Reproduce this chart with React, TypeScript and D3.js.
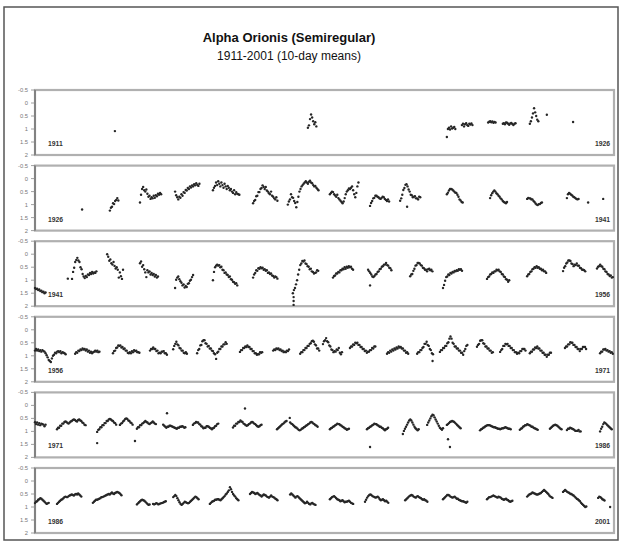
import * as d3 from "d3";

// 10-day means, each observing season: [first epoch (year), magnitudes...]
type Season = [number, number[]];
type Point = [number, number];

const STEP = 10 / 365.25;
const panelStarts = [1911, 1926, 1941, 1956, 1971, 1986];
const yTicks = [-0.5, 0, 0.5, 1, 1.5, 2];

const seasons1911: Season[] = [
  [1913.07, [1.08]],
  [1918.07, [0.95, 0.86, 0.62, 0.44, 0.56, 0.7, 0.82, 0.74, 0.9]],
  [1921.67, [1.31, 1.0, 0.95, 1.02, 0.9, 0.98, 0.95, 0.92, 1.0]],
  [1922.06, [0.85, 0.8, 0.9, 0.82, 0.78, 0.85, 0.88, 0.8, 0.83, 0.79, 0.85]],
  [1922.74, [0.75, 0.72, 0.7, 0.74, 0.71, 0.76, 0.73, 0.75]],
  [1923.12, [0.8, 0.78, 0.82, 0.75, 0.76, 0.8, 0.84, 0.79, 0.77, 0.81, 0.85, 0.8, 0.78]],
  [1923.82, [0.8, 0.7, 0.56, 0.4, 0.2, 0.36, 0.5, 0.64, 0.7]],
  [1924.26, [0.45]],
  [1924.94, [0.73]],
];
const extras1911: Point[] = [];

const seasons1926: Season[] = [
  [1927.22, [1.19]],
  [1927.94, [1.23, 1.12, 1.08, 0.95, 0.98, 0.86, 0.82, 0.75, 0.84]],
  [1928.72, [0.92, 0.62, 0.4, 0.32, 0.45, 0.5, 0.42, 0.58, 0.7, 0.66, 0.78, 0.72, 0.76, 0.66, 0.74, 0.64, 0.68, 0.58, 0.62, 0.55, 0.6]],
  [1929.63, [0.5, 0.64, 0.72, 0.8, 0.7, 0.74, 0.6, 0.66, 0.52, 0.55, 0.44, 0.46, 0.36, 0.4, 0.3, 0.34, 0.26, 0.3, 0.22, 0.26, 0.18, 0.24, 0.28, 0.2]],
  [1930.61, [0.45, 0.35, 0.28, 0.15, 0.25, 0.1, 0.2, 0.3, 0.15, 0.25, 0.35, 0.2, 0.3, 0.4, 0.28, 0.35, 0.45, 0.4, 0.5, 0.55, 0.45, 0.6, 0.52, 0.58, 0.6, 0.62]],
  [1931.65, [0.95, 0.86, 0.82, 0.68, 0.66, 0.52, 0.52, 0.4, 0.36, 0.26, 0.32, 0.4, 0.32, 0.46, 0.5, 0.56, 0.6, 0.5, 0.66, 0.7, 0.76, 0.8, 0.72, 0.85]],
  [1932.55, [1.0, 0.88, 0.8, 0.6, 0.72, 0.74, 0.86, 0.94, 1.1, 0.9, 0.7, 0.5, 0.4, 0.3, 0.25, 0.2, 0.15, 0.1, 0.15, 0.2, 0.12, 0.08, 0.15, 0.18, 0.25, 0.3, 0.28, 0.35, 0.4, 0.45]],
  [1933.64, [0.6, 0.55, 0.5, 0.52, 0.6, 0.65, 0.7, 0.62, 0.75, 0.8, 0.85, 0.9, 0.95, 0.88, 0.75, 0.6, 0.5, 0.45, 0.38, 0.4, 0.35, 0.3, 0.45, 0.6, 0.72, 0.55, 0.3, 0.15]],
  [1934.68, [1.05, 0.94, 0.86, 0.76, 0.74, 0.66, 0.66, 0.7, 0.72, 0.76, 0.78, 0.74, 0.7, 0.72, 0.78, 0.82, 0.86, 0.8, 0.88]],
  [1935.46, [0.85, 0.76, 0.62, 0.44, 0.36, 0.24, 0.22, 0.3, 0.42, 0.5, 0.62, 0.64, 0.72, 0.7, 0.68, 0.76, 0.76, 0.8, 0.7, 0.72]],
  [1936.67, [0.6, 0.54, 0.46, 0.4, 0.4, 0.42, 0.46, 0.5, 0.54, 0.55, 0.62, 0.7, 0.8, 0.84, 0.9, 0.92]],
  [1937.79, [0.75, 0.64, 0.56, 0.5, 0.46, 0.5, 0.56, 0.6, 0.66, 0.7, 0.76, 0.8, 0.86, 0.9, 0.92, 0.95, 0.9]],
  [1938.75, [0.78, 0.74, 0.76, 0.76, 0.8, 0.8, 0.86, 0.9, 0.96, 1.0, 1.02, 0.98, 0.98, 0.94, 0.92]],
  [1939.78, [0.75, 0.6, 0.55, 0.58, 0.62, 0.65, 0.7, 0.72, 0.75, 0.78, 0.8, 0.78]],
  [1940.33, [0.92]],
  [1940.72, [0.78]],
];
const extras1926: Point[] = [[1935.64, 1.08]];

const seasons1941: Season[] = [
  [1941.0, [1.3, 1.34, 1.33, 1.38, 1.36, 1.42, 1.4, 1.46, 1.44, 1.5, 1.47]],
  [1941.85, [0.94]],
  [1941.96, [0.95, 0.68, 0.52, 0.3, 0.22, 0.14, 0.24, 0.3, 0.5, 0.58, 0.76, 0.86, 0.92, 0.84, 0.88, 0.78, 0.8, 0.72, 0.76, 0.68, 0.74, 0.7, 0.72, 0.66]],
  [1942.87, [0.0, 0.1, 0.25, 0.2, 0.35, 0.4, 0.3, 0.45, 0.55, 0.5, 0.6, 0.9, 0.7, 0.85, 0.95, 0.6]],
  [1943.72, [0.35, 0.28, 0.48, 0.42, 0.58, 0.7, 0.88, 0.62, 0.7, 0.66, 0.78, 0.72, 0.8, 0.76, 0.86, 0.8, 0.9, 0.86]],
  [1944.63, [1.3, 0.98, 0.9, 0.86, 0.96, 1.04, 1.1, 1.2, 1.16, 1.28, 1.22, 1.26, 1.14, 1.12, 1.02, 0.98, 0.88, 0.8]],
  [1945.61, [1.0, 0.68, 0.5, 0.44, 0.4, 0.44, 0.42, 0.5, 0.48, 0.6, 0.62, 0.72, 0.7, 0.78, 0.8, 0.88, 0.86, 0.96, 0.98, 1.06, 1.08, 1.14, 1.12, 1.2]],
  [1946.65, [0.9, 0.78, 0.72, 0.62, 0.64, 0.54, 0.56, 0.5, 0.54, 0.52, 0.6, 0.58, 0.64, 0.62, 0.72, 0.7, 0.76, 0.74, 0.82, 0.84, 0.9, 0.86, 0.88, 0.94]],
  [1947.68, [1.5, 1.38, 1.3, 1.16, 1.0, 0.78, 0.6, 0.42, 0.36, 0.26, 0.28, 0.24, 0.36, 0.38, 0.46, 0.48, 0.58, 0.56, 0.66, 0.68, 0.74, 0.72, 0.7, 0.62, 0.64]],
  [1948.72, [0.9, 0.84, 0.82, 0.74, 0.74, 0.68, 0.7, 0.62, 0.62, 0.56, 0.58, 0.5, 0.56, 0.48, 0.52, 0.46, 0.5, 0.48, 0.56, 0.6]],
  [1949.63, [0.6, 0.66, 0.72, 0.78, 0.86, 0.88, 0.84, 0.78, 0.76, 0.68, 0.66, 0.58, 0.56, 0.48, 0.46, 0.4, 0.4, 0.34, 0.42, 0.44, 0.52, 0.54, 0.62]],
  [1950.72, [0.85, 0.78, 0.76, 0.64, 0.56, 0.44, 0.42, 0.34, 0.34, 0.36, 0.42, 0.44, 0.52, 0.54, 0.6, 0.6, 0.66, 0.58, 0.56, 0.62, 0.6, 0.66]],
  [1951.57, [1.3, 1.18, 1.02, 0.88, 0.86, 0.78, 0.8, 0.72, 0.74, 0.68, 0.7, 0.64, 0.66, 0.62, 0.64, 0.58, 0.6, 0.58, 0.64]],
  [1952.71, [0.95, 0.88, 0.86, 0.78, 0.76, 0.7, 0.72, 0.66, 0.66, 0.6, 0.62, 0.6, 0.66, 0.68, 0.76, 0.78, 0.86, 0.88, 0.96, 0.98, 1.06, 1.0]],
  [1953.75, [0.85, 0.78, 0.76, 0.68, 0.66, 0.58, 0.56, 0.5, 0.52, 0.46, 0.52, 0.5, 0.56, 0.56, 0.62, 0.6, 0.66, 0.66, 0.72]],
  [1954.68, [0.65, 0.52, 0.46, 0.36, 0.32, 0.24, 0.24, 0.26, 0.36, 0.38, 0.46, 0.4, 0.42, 0.36, 0.44, 0.44, 0.52, 0.54, 0.6, 0.6, 0.62, 0.66]],
  [1955.56, [0.55, 0.48, 0.46, 0.4, 0.46, 0.48, 0.56, 0.58, 0.66, 0.68, 0.76, 0.78, 0.84, 0.82, 0.9, 0.88]],
];
const extras1941: Point[] = [
  [1947.7, 1.95], [1947.7, 1.8], [1947.7, 1.65], [1949.68, 1.2],
];

const seasons1956: Season[] = [
  [1956.0, [0.8, 0.74, 0.8, 0.76, 0.82, 0.78, 0.84, 0.78, 0.82, 0.84, 0.9, 0.98, 1.06, 1.16, 1.2, 1.24, 1.1, 1.0, 0.96, 0.88, 0.9, 0.84, 0.82, 0.86, 0.82, 0.9, 0.86, 0.88, 0.9, 0.94]],
  [1957.04, [0.92, 0.86, 0.88, 0.8, 0.82, 0.76, 0.78, 0.72, 0.76, 0.74, 0.8, 0.76, 0.84, 0.8, 0.88, 0.84, 0.9, 0.86, 0.84, 0.8, 0.84, 0.8, 0.86, 0.84]],
  [1958.02, [0.9, 0.82, 0.8, 0.7, 0.68, 0.6, 0.62, 0.6, 0.68, 0.66, 0.74, 0.72, 0.8, 0.8, 0.88, 0.9, 0.86, 0.9, 0.82, 0.86, 0.78, 0.82, 0.8, 0.86, 0.86, 0.88]],
  [1958.98, [0.8, 0.74, 0.74, 0.68, 0.74, 0.74, 0.82, 0.8, 0.9, 0.88, 0.9, 0.84, 0.84, 0.82, 0.9, 0.9, 0.96]],
  [1959.58, [0.75, 0.62, 0.54, 0.46, 0.56, 0.6, 0.7, 0.72, 0.8, 0.8, 0.88, 0.9, 0.86, 0.92]],
  [1960.2, [0.9, 0.78, 0.74, 0.6, 0.58, 0.44, 0.4, 0.4, 0.52, 0.54, 0.64, 0.62, 0.72, 0.72, 0.8, 0.82, 0.9, 0.94, 1.12, 0.88, 0.84, 0.74, 0.74, 0.64, 0.64, 0.56, 0.56, 0.48, 0.54]],
  [1961.31, [0.85, 0.78, 0.78, 0.7, 0.7, 0.64, 0.66, 0.6, 0.66, 0.66, 0.74, 0.74, 0.82, 0.82, 0.9, 0.9, 0.96, 0.94, 0.94, 0.86, 0.88, 0.86]],
  [1962.17, [0.8, 0.76, 0.78, 0.72, 0.74, 0.72, 0.78, 0.76, 0.82, 0.8, 0.86, 0.84, 0.86, 0.8, 0.82, 0.76]],
  [1962.87, [0.92, 0.86, 0.86, 0.78, 0.78, 0.7, 0.7, 0.62, 0.62, 0.54, 0.52, 0.44, 0.42, 0.46, 0.56, 0.6, 0.72, 0.72, 0.8]],
  [1963.46, [0.55, 0.44, 0.4, 0.32, 0.44, 0.48, 0.6, 0.64, 0.76, 0.78, 0.86, 0.82, 0.84, 0.76, 0.78, 0.7, 0.88, 0.94, 0.86]],
  [1964.16, [0.7, 0.64, 0.64, 0.56, 0.58, 0.5, 0.52, 0.5, 0.58, 0.58, 0.66, 0.66, 0.74, 0.74, 0.82, 0.8, 0.88, 0.84, 0.84, 0.78, 0.78, 0.7, 0.72, 0.64, 0.64]],
  [1965.12, [0.92, 0.86, 0.88, 0.8, 0.84, 0.76, 0.8, 0.72, 0.76, 0.68, 0.72, 0.64, 0.68, 0.66, 0.72, 0.72, 0.8, 0.8, 0.88, 0.86, 0.92]],
  [1965.9, [0.92, 0.86, 0.86, 0.78, 0.78, 0.7, 0.66, 0.54, 0.54, 0.46, 0.58, 0.62, 0.74, 0.78, 0.9, 0.94]],
  [1966.49, [0.85, 0.78, 0.78, 0.7, 0.7, 0.62, 0.62, 0.52, 0.48, 0.34, 0.26, 0.34, 0.5, 0.54, 0.64, 0.64, 0.72, 0.72, 0.8, 0.8, 0.88, 0.88, 0.96, 0.82, 0.74, 0.62, 0.58]],
  [1967.45, [0.65, 0.58, 0.54, 0.42, 0.4, 0.4, 0.52, 0.54, 0.64, 0.64, 0.72, 0.72, 0.8, 0.8, 0.88, 0.86]],
  [1968.05, [0.85, 0.78, 0.74, 0.62, 0.62, 0.54, 0.56, 0.54, 0.62, 0.62, 0.7, 0.7, 0.78, 0.78, 0.86, 0.86, 0.92, 0.88, 0.9, 0.82, 0.82, 0.74, 0.74, 0.74, 0.8]],
  [1968.82, [0.9, 0.84, 0.84, 0.76, 0.76, 0.68, 0.7, 0.64, 0.72, 0.72, 0.8, 0.8, 0.88, 0.88, 0.96, 0.96, 1.04, 0.96, 0.96, 0.88, 0.88]],
  [1969.73, [0.7, 0.64, 0.64, 0.56, 0.56, 0.48, 0.5, 0.5, 0.58, 0.58, 0.66, 0.66, 0.74, 0.74, 0.82, 0.74, 0.74, 0.66, 0.66, 0.66, 0.74]],
  [1970.64, [0.9, 0.84, 0.84, 0.76, 0.76, 0.74, 0.8, 0.78, 0.84, 0.82, 0.88, 0.86, 0.92]],
];
const extras1956: Point[] = [[1966.3, 1.2]];

const seasons1971: Season[] = [
  [1971.0, [0.65, 0.72, 0.66, 0.74, 0.68, 0.76, 0.7, 0.72, 0.74, 0.8, 0.74]],
  [1971.57, [0.92, 0.86, 0.86, 0.78, 0.78, 0.7, 0.7, 0.64, 0.62, 0.64, 0.68, 0.7, 0.66, 0.62, 0.6, 0.56, 0.54, 0.56, 0.6, 0.62, 0.56, 0.54, 0.58, 0.6, 0.66, 0.68, 0.74, 0.76]],
  [1972.61, [1.02, 0.94, 0.92, 0.84, 0.84, 0.76, 0.76, 0.68, 0.68, 0.6, 0.6, 0.54, 0.52, 0.54, 0.58, 0.6, 0.66, 0.68, 0.74]],
  [1973.2, [0.75, 0.7, 0.68, 0.62, 0.58, 0.52, 0.5, 0.52, 0.58, 0.6, 0.66, 0.68, 0.74]],
  [1973.64, [0.9, 0.84, 0.84, 0.76, 0.76, 0.7, 0.68, 0.64, 0.6, 0.64, 0.66, 0.7, 0.72, 0.68, 0.66, 0.62, 0.66, 0.7, 0.72]],
  [1974.32, [0.74, 0.78, 0.82, 0.86, 0.82, 0.82, 0.78, 0.78, 0.8, 0.82, 0.84, 0.86, 0.88, 0.9, 0.86, 0.86, 0.82, 0.82, 0.8, 0.82, 0.86, 0.84]],
  [1975.09, [0.75, 0.7, 0.68, 0.64, 0.66, 0.66, 0.72, 0.74, 0.8, 0.82, 0.88, 0.86, 0.86, 0.8, 0.8, 0.82, 0.86, 0.88, 0.92, 0.88, 0.86, 0.8, 0.78, 0.72, 0.7]],
  [1976.13, [0.85, 0.78, 0.78, 0.7, 0.7, 0.64, 0.64, 0.58, 0.62, 0.64, 0.7, 0.72, 0.76, 0.78, 0.76, 0.72, 0.7, 0.66, 0.64, 0.66, 0.7, 0.72, 0.76, 0.8, 0.82, 0.8, 0.76, 0.74]],
  [1977.27, [0.92, 0.88, 0.84, 0.8, 0.76, 0.72, 0.7, 0.66, 0.62, 0.6]],
  [1977.61, [0.66, 0.7, 0.72, 0.76, 0.8, 0.84, 0.86, 0.9, 0.94, 0.96, 0.94, 0.9, 0.88, 0.84, 0.82, 0.78, 0.76, 0.72, 0.7, 0.66, 0.64, 0.66, 0.7, 0.72, 0.76, 0.78, 0.82]],
  [1978.64, [0.92, 0.88, 0.86, 0.82, 0.8, 0.76, 0.74, 0.7, 0.72, 0.72, 0.76, 0.78, 0.82, 0.84, 0.88, 0.9, 0.94, 0.92, 0.9]],
  [1979.6, [0.92, 0.88, 0.86, 0.82, 0.8, 0.76, 0.74, 0.7, 0.72, 0.72, 0.76, 0.78, 0.82, 0.82, 0.86, 0.88, 0.92, 0.96, 0.92, 0.9, 0.86]],
  [1980.53, [1.1, 0.98, 0.9, 0.82, 0.74, 0.66, 0.58, 0.54, 0.58, 0.66, 0.74, 0.82, 0.88, 0.92, 0.96, 0.92]],
  [1981.16, [0.75, 0.66, 0.58, 0.5, 0.42, 0.36, 0.38, 0.46, 0.54, 0.62, 0.7, 0.78, 0.86, 0.9, 0.94, 0.88]],
  [1981.67, [0.75, 0.72, 0.68, 0.64, 0.62, 0.6, 0.62, 0.64, 0.68, 0.72, 0.76, 0.8, 0.84, 0.88]],
  [1982.53, [0.96, 0.92, 0.9, 0.86, 0.84, 0.8, 0.78, 0.76, 0.76, 0.76, 0.78, 0.8, 0.82, 0.84, 0.84, 0.86, 0.88, 0.9, 0.9, 0.92, 0.9, 0.88, 0.88, 0.86, 0.84, 0.86, 0.88, 0.9, 0.9, 0.92]],
  [1983.56, [0.94, 0.9, 0.88, 0.82, 0.8, 0.76, 0.76, 0.72, 0.74, 0.76, 0.78, 0.82, 0.82, 0.86, 0.88, 0.9, 0.92, 0.94]],
  [1984.34, [0.9, 0.86, 0.82, 0.78, 0.76, 0.74, 0.76, 0.78, 0.82, 0.86, 0.9, 0.92]],
  [1984.78, [0.95, 0.9, 0.9, 0.86, 0.88, 0.9, 0.92, 0.94, 0.98, 0.98, 0.98, 0.94, 1.0, 1.0]],
  [1985.64, [1.0, 0.9, 0.82, 0.72, 0.66, 0.68, 0.72, 0.76, 0.8, 0.84, 0.88, 0.92]],
];
const extras1971: Point[] = [
  [1972.61, 1.45], [1973.59, 1.37], [1974.42, 0.3], [1976.44, 0.12],
  [1977.6, 0.48], [1979.68, 1.6], [1981.7, 1.3], [1981.75, 1.6],
];

const seasons1986: Season[] = [
  [1986.0, [0.85, 0.8, 0.78, 0.72, 0.7, 0.66, 0.68, 0.72, 0.76, 0.8, 0.84, 0.88, 0.86, 0.84]],
  [1986.57, [0.88, 0.84, 0.8, 0.76, 0.72, 0.7, 0.66, 0.62, 0.6, 0.62, 0.62, 0.58, 0.56, 0.54, 0.52, 0.54, 0.56, 0.52, 0.5, 0.52, 0.48, 0.52, 0.56, 0.6]],
  [1987.5, [0.84, 0.8, 0.76, 0.72, 0.72, 0.7, 0.68, 0.66, 0.62, 0.62, 0.6, 0.58, 0.56, 0.54, 0.52, 0.5, 0.52, 0.48, 0.44, 0.48, 0.5, 0.46, 0.44, 0.42, 0.44, 0.46, 0.5, 0.55]],
  [1988.64, [0.9, 0.86, 0.82, 0.78, 0.74, 0.72, 0.74, 0.76, 0.8, 0.84, 0.88, 0.92, 0.9]],
  [1989.06, [0.88, 0.9, 0.88, 0.85, 0.87, 0.9, 0.88, 0.86, 0.85, 0.84, 0.82, 0.8, 0.78]],
  [1989.58, [0.62, 0.58, 0.54, 0.58, 0.66, 0.74, 0.82, 0.88, 0.92, 0.88, 0.84, 0.8, 0.82, 0.84, 0.86, 0.84, 0.8, 0.76, 0.72, 0.68, 0.64, 0.6, 0.62, 0.66, 0.7]],
  [1990.53, [0.88, 0.84, 0.8, 0.78, 0.76, 0.72, 0.72, 0.7, 0.7, 0.72, 0.74, 0.7, 0.66, 0.62, 0.58, 0.52, 0.48, 0.42, 0.36, 0.24, 0.32, 0.42, 0.5, 0.56, 0.6, 0.66, 0.7, 0.74]],
  [1991.57, [0.5, 0.46, 0.42, 0.44, 0.46, 0.5, 0.48, 0.46, 0.5, 0.54, 0.56, 0.6, 0.56, 0.52, 0.54, 0.56, 0.6, 0.62, 0.64, 0.6, 0.56, 0.6, 0.62, 0.64, 0.68, 0.7, 0.74]],
  [1992.61, [0.52, 0.48, 0.52, 0.56, 0.6, 0.64, 0.6, 0.58, 0.62, 0.66, 0.7, 0.74, 0.78, 0.82, 0.86, 0.84, 0.8, 0.84, 0.88, 0.9, 0.86, 0.84, 0.88, 0.9, 0.92]],
  [1993.64, [0.7, 0.66, 0.62, 0.6, 0.58, 0.62, 0.66, 0.7, 0.72, 0.74, 0.78, 0.76, 0.74, 0.78, 0.82, 0.8, 0.8, 0.78, 0.76, 0.8, 0.84, 0.86, 0.88]],
  [1994.55, [0.8, 0.72, 0.64, 0.58, 0.54, 0.52, 0.54, 0.58, 0.6, 0.62, 0.64, 0.62, 0.6, 0.64, 0.7, 0.74, 0.72, 0.7, 0.74, 0.78, 0.76, 0.8, 0.84]],
  [1995.59, [0.74, 0.7, 0.66, 0.62, 0.58, 0.56, 0.54, 0.56, 0.6, 0.62, 0.64, 0.6, 0.58, 0.62, 0.64, 0.66, 0.7, 0.72, 0.7, 0.74, 0.76, 0.8]],
  [1996.57, [0.7, 0.66, 0.62, 0.58, 0.54, 0.54, 0.56, 0.6, 0.62, 0.64, 0.62, 0.6, 0.64, 0.68, 0.68, 0.72, 0.74, 0.76, 0.78, 0.78, 0.8, 0.82, 0.84, 0.8]],
  [1997.71, [0.7, 0.66, 0.62, 0.62, 0.6, 0.58, 0.56, 0.58, 0.6, 0.62, 0.64, 0.6, 0.62, 0.64, 0.68, 0.7, 0.72, 0.7, 0.68, 0.72, 0.74, 0.78, 0.8, 0.78, 0.76]],
  [1998.75, [0.6, 0.56, 0.52, 0.5, 0.48, 0.44, 0.46, 0.48, 0.5, 0.52, 0.52, 0.5, 0.48, 0.46, 0.42, 0.38, 0.34, 0.38, 0.42, 0.46, 0.5, 0.56, 0.6, 0.62, 0.65]],
  [1999.68, [0.42, 0.38, 0.34, 0.38, 0.42, 0.44, 0.46, 0.5, 0.5, 0.54, 0.56, 0.6, 0.64, 0.68, 0.7, 0.74, 0.78, 0.84, 0.88, 0.92, 0.96, 1.0, 0.98]],
  [2000.59, [0.65, 0.6, 0.62, 0.65, 0.7, 0.72, 0.75]],
];
const extras1986: Point[] = [[2000.9, 1.0]];

const allSeasons = [seasons1911, seasons1926, seasons1941, seasons1956, seasons1971, seasons1986];
const allExtras = [extras1911, extras1926, extras1941, extras1956, extras1971, extras1986];

const W = 622;
const H = 545;
const left = 35;
const right = 614;
const top0 = 90;
const pitch = 75.6;
const panelH = 65;
const font = "Liberation Sans, Arial, sans-serif";

function Panel({ index }: { index: number }) {
  const start = panelStarts[index];
  const top = top0 + index * pitch;
  const x = d3.scaleLinear().domain([start, start + 15]).range([left, right]);
  const y = d3.scaleLinear().domain([-0.5, 2]).range([top, top + panelH]);
  const pts: Point[] = [];
  allSeasons[index].forEach(([t0, mags]) => {
    mags.forEach((m, i) => pts.push([t0 + i * STEP, m]));
  });
  allExtras[index].forEach((p) => pts.push(p));

  return (
    <g>
      <rect x={left} y={top} width={right - left} height={panelH} fill="none" stroke="#b0b0b0" strokeWidth={2.2} />
      <line x1={left} x2={left} y1={top} y2={top + panelH} stroke="#555" strokeWidth={1} />
      {yTicks.map((t) => (
        <g key={t}>
          <line x1={left - 4} x2={left} y1={y(t)} y2={y(t)} stroke="#888" strokeWidth={0.8} />
          <text x={left - 7} y={y(t) + 2} textAnchor="end" fontSize={5.8} fill="#777" fontFamily={font}>
            {String(t)}
          </text>
        </g>
      ))}
      <g filter="url(#soft)">
        {pts.map((p, i) => (
          <circle key={i} cx={x(p[0])} cy={y(p[1])} r={1.2} fill="#262626" />
        ))}
      </g>
      <text x={left + 13} y={top + panelH - 9} fontSize={6.8} fontWeight="bold" fill="#333" fontFamily={font}>
        {start}
      </text>
      <text x={right - 4} y={top + panelH - 9} textAnchor="end" fontSize={6.8} fontWeight="bold" fill="#333" fontFamily={font}>
        {start + 15}
      </text>
    </g>
  );
}

export default function App() {
  return (
    <svg width={W} height={H} style={{ position: "absolute", left: 0, top: 0, background: "#fff" }}>
      <defs>
        <filter id="soft" x="-5%" y="-5%" width="110%" height="110%">
          <feGaussianBlur stdDeviation={0.35} />
        </filter>
      </defs>
      <rect x={4} y={7} width={614} height={533} fill="#fff" stroke="#555" strokeWidth={1.5} />
      <text x={289} y={42} textAnchor="middle" fontSize={13} fontWeight="bold" fill="#111" fontFamily={font}>
        Alpha Orionis (Semiregular)
      </text>
      <text x={289} y={60} textAnchor="middle" fontSize={12} fill="#111" fontFamily={font}>
        1911-2001 (10-day means)
      </text>
      {panelStarts.map((s, i) => (
        <Panel key={s} index={i} />
      ))}
    </svg>
  );
}
